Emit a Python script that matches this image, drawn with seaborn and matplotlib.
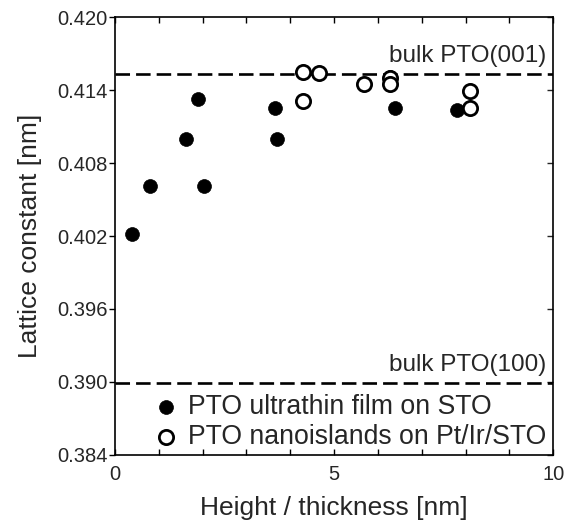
import pandas as pd
import matplotlib
matplotlib.use('Agg')
from matplotlib import pyplot as plt
from matplotlib.ticker import MultipleLocator
import seaborn as sns

# data 읽기 -----------------------------------------------------------------------
film_x = [0.38, 0.80, 1.62, 1.90, 2.03, 3.65, 3.69, 6.28, 6.39, 7.80]
film_y = [0.4022, 0.4061, 0.4100, 0.4133, 0.4061, 0.4125, 0.4100, 0.4151, 0.4125, 0.4124]
island_x = [4.28, 4.65, 4.28, 5.68, 6.28, 6.28, 8.10, 8.10]
island_y = [0.4155, 0.4154, 0.4131, 0.4145, 0.4150, 0.4145, 0.4139, 0.4125]
bulk_labels = ['bulk PTO(001)', 'bulk PTO(100)']
bulk_values = [0.4153, 0.3899]
y_ticks = [0.384, 0.390, 0.396, 0.402, 0.408, 0.414, 0.420]
x_ticks = [0, 5, 10]


def main():
    sns.set_style('ticks')
    plt.rcParams['font.family'] = ['Liberation Sans', 'DejaVu Sans']
    film_df = pd.DataFrame({'x': film_x, 'y': film_y})
    island_df = pd.DataFrame({'x': island_x, 'y': island_y})

    fig, ax = plt.subplots(figsize=(5.75, 5.21), dpi=100)
    fig.subplots_adjust(left=0.2, right=0.962, top=0.967, bottom=0.127)

    # 기준선 ---------------------------------------------------------------------------
    for lab, val in zip(bulk_labels, bulk_values):
        ax.axhline(val, color='black', lw=1.9, ls=(0, (5.5, 2.3)), zorder=1)
        ax.text(9.85, val + 0.0006, lab, ha='right', va='bottom', fontsize=17.5)

    sns.scatterplot(data=film_df, x='x', y='y', ax=ax, marker='o', s=100,
                    color='black', edgecolor='black', linewidth=0.5, zorder=3,
                    label='PTO ultrathin film on STO')
    sns.scatterplot(data=island_df, x='x', y='y', ax=ax, marker='o', s=105,
                    facecolor='white', edgecolor='black', linewidth=2.0, zorder=4,
                    label='PTO nanoislands on Pt/Ir/STO')

    ax.set_xlim(0, 10)
    ax.set_ylim(0.384, 0.420)
    ax.set_xticks(x_ticks)
    ax.set_yticks(y_ticks)
    ax.set_yticklabels(['%.3f' % v for v in y_ticks])
    ax.xaxis.set_minor_locator(MultipleLocator(1))
    # 눈금: 왼쪽은 바깥, 나머지는 안쪽
    ax.tick_params(which='both', labelsize=14.5, width=1, color='black', length=4.5)
    ax.tick_params(axis='x', which='both', direction='in', top=True, pad=7)
    ax.tick_params(axis='y', which='both', direction='out', right=False, pad=1)
    right = ax.secondary_yaxis('right')
    right.set_yticks(y_ticks)
    right.tick_params(direction='in', length=4.5, width=1, labelright=False)
    right.spines['right'].set_visible(False)
    for sp in ax.spines.values():
        sp.set_linewidth(1.2)
        sp.set_color('black')
    ax.set_xlabel('Height / thickness [nm]', fontsize=19, labelpad=9)
    ax.set_ylabel('Lattice constant [nm]', fontsize=19, labelpad=11)

    ax.legend(loc='lower left', bbox_to_anchor=(0.05, -0.025), frameon=False,
              fontsize=19.2, handletextpad=0.3, borderaxespad=0.2,
              labelspacing=0.15, markerscale=1.0, handlelength=1.0)
    fig.savefig('out.png', dpi=100)


if __name__ == "__main__":
    main()
